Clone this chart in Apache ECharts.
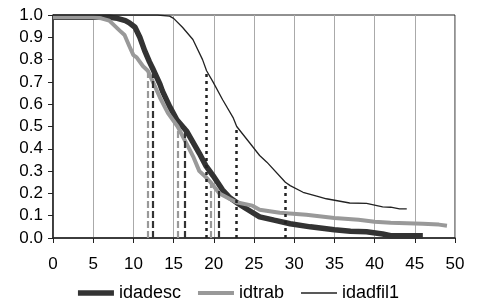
<!DOCTYPE html>
<html>
<head>
<meta charset="utf-8">
<script src="https://cdn.jsdelivr.net/npm/echarts@6/dist/echarts.min.js"></script>
<style>
  html, body { margin: 0; padding: 0; background: #fff; }
  #chart { width: 477px; height: 301px; }
</style>
</head>
<body>
<div id="chart"></div>
<script>
  // curves: [age, proportion]
  let idadesc = [
    [0, 0.99], [5, 0.99], [7, 0.99], [8, 0.985], [9, 0.975], [9.5, 0.965],
    [10.2, 0.945], [10.8, 0.9], [11.4, 0.84], [12, 0.79], [12.4, 0.76],
    [13.3, 0.69], [13.6, 0.66], [14.5, 0.59], [15.4, 0.53],
    [16.6, 0.48], [17.4, 0.43], [18.2, 0.38], [19, 0.325], [19.9, 0.28],
    [21.1, 0.215], [22, 0.18], [22.8, 0.16], [24.1, 0.13],
    [25.7, 0.095], [27.5, 0.08], [29.5, 0.064], [32, 0.05], [35, 0.037],
    [37, 0.03], [39, 0.028], [41, 0.018], [42, 0.01], [46, 0.01],
  ];
  let idtrab = [
    [0, 0.99], [5, 0.99], [6, 0.985], [7, 0.975], [8.3, 0.93], [8.9, 0.91],
    [9.5, 0.86], [10, 0.82], [10.4, 0.81], [11.2, 0.77], [11.8, 0.75],
    [12.3, 0.71], [13.3, 0.63], [14.3, 0.56], [15.5, 0.5], [16.8, 0.41],
    [17.5, 0.36], [18.2, 0.3], [19.1, 0.27], [19.6, 0.25], [20.7, 0.2],
    [22, 0.175], [22.8, 0.16], [24.8, 0.145], [25.7, 0.127], [28.2, 0.113],
    [31.5, 0.104], [35, 0.09], [38, 0.082], [40, 0.073], [42, 0.068],
    [46, 0.064], [48, 0.06], [49, 0.055],
  ];
  let idadfil1 = [
    [0, 1.0], [13, 1.0], [14.5, 0.995], [15, 0.985], [16.1, 0.945],
    [17.4, 0.89], [18.6, 0.8], [19.1, 0.75], [19.9, 0.7], [21.1, 0.62],
    [22.4, 0.54], [22.85, 0.5], [24.5, 0.425], [25.7, 0.37], [26.6, 0.34],
    [28.9, 0.25], [29.5, 0.235], [31.1, 0.205], [32.8, 0.188], [34, 0.176],
    [36.9, 0.157], [39, 0.155], [41, 0.14], [42, 0.138], [43.1, 0.131],
    [44, 0.131],
  ];

  // quartile markers (75%, 50%, 25%)
  let quartLevels = [0.75, 0.5, 0.25];
  let idadescQuart = [12.4, 16.4, 20.6];
  let idtrabQuart = [11.8, 15.5, 19.6];
  let idadfil1Quart = [19.1, 22.85, 28.9];

  let legendNames = ["idadesc", "idtrab", "idadfil1"];

  function quartLines(xs, color, width, dash) {
    return {
      silent: true,
      symbol: "none",
      label: { show: false },
      lineStyle: { color: color, width: width, type: dash, opacity: 1 },
      emphasis: { disabled: true },
      data: xs.map(function(x, i) {
        return [{ coord: [x, 0] }, { coord: [x, quartLevels[i]] }];
      }),
    };
  }

  // flat bar used as legend key, h = stroke thickness
  function barIcon(h) {
    return "path://M0,0L36,0L36," + h + "L0," + h + "Z";
  }

  var myChart = echarts.init(document.getElementById("chart"));

  let font = "Liberation Sans, Arial, Helvetica, sans-serif";

  let options = {
    animation: false,
    grid: {
      left: 53,
      right: 22,
      top: 15,
      bottom: 63,
      show: true,
      borderColor: "#222",
      borderWidth: 1,
    },
    legend: {
      data: [
        { name: legendNames[0], icon: barIcon(5.5) },
        { name: legendNames[1], icon: barIcon(4) },
        { name: legendNames[2], icon: barIcon(1.4) },
      ],
      top: 279,
      left: "center",
      itemWidth: 36,
      itemHeight: 12,
      itemGap: 17,
      textStyle: { fontFamily: font, fontSize: 18, color: "#000" },
    },
    xAxis: {
      type: "value",
      min: 0,
      max: 50,
      interval: 5,
      axisLine: { lineStyle: { color: "#222", width: 1.5 } },
      axisTick: { show: true, length: 5, lineStyle: { color: "#222" } },
      axisLabel: { fontFamily: font, fontSize: 17, color: "#000", margin: 18 },
      splitLine: { show: true, lineStyle: { color: "#aaa", width: 1 } },
    },
    yAxis: {
      type: "value",
      min: 0,
      max: 1,
      interval: 0.1,
      axisLine: { show: true, lineStyle: { color: "#222", width: 1.5 } },
      axisTick: { show: true, length: 5, lineStyle: { color: "#222" } },
      axisLabel: {
        fontFamily: font,
        fontSize: 17,
        color: "#000",
        margin: 10,
        formatter: function(v) {
          return v.toFixed(1);
        },
      },
      splitLine: { show: false },
    },
    series: [
      {
        name: "idadesc",
        type: "line",
        data: idadesc,
        symbol: "none",
        lineStyle: { color: "#333", width: 5.5 },
        itemStyle: { color: "#333" },
        markLine: quartLines(idadescQuart, "#333", 2.2, [7, 3]),
      },
      {
        name: "idtrab",
        type: "line",
        data: idtrab,
        symbol: "none",
        lineStyle: { color: "#999", width: 4 },
        itemStyle: { color: "#999" },
        markLine: quartLines(idtrabQuart, "#999", 2.2, [7, 3]),
      },
      {
        name: "idadfil1",
        type: "line",
        data: idadfil1,
        symbol: "none",
        lineStyle: { color: "#222", width: 1.3 },
        itemStyle: { color: "#222" },
        markLine: quartLines(idadfil1Quart, "#222", 2.5, [3, 4]),
      },
    ],
  };
  myChart.setOption(options);
  window.addEventListener("resize", function() {
    myChart.resize();
  });
</script>
</body>
</html>
